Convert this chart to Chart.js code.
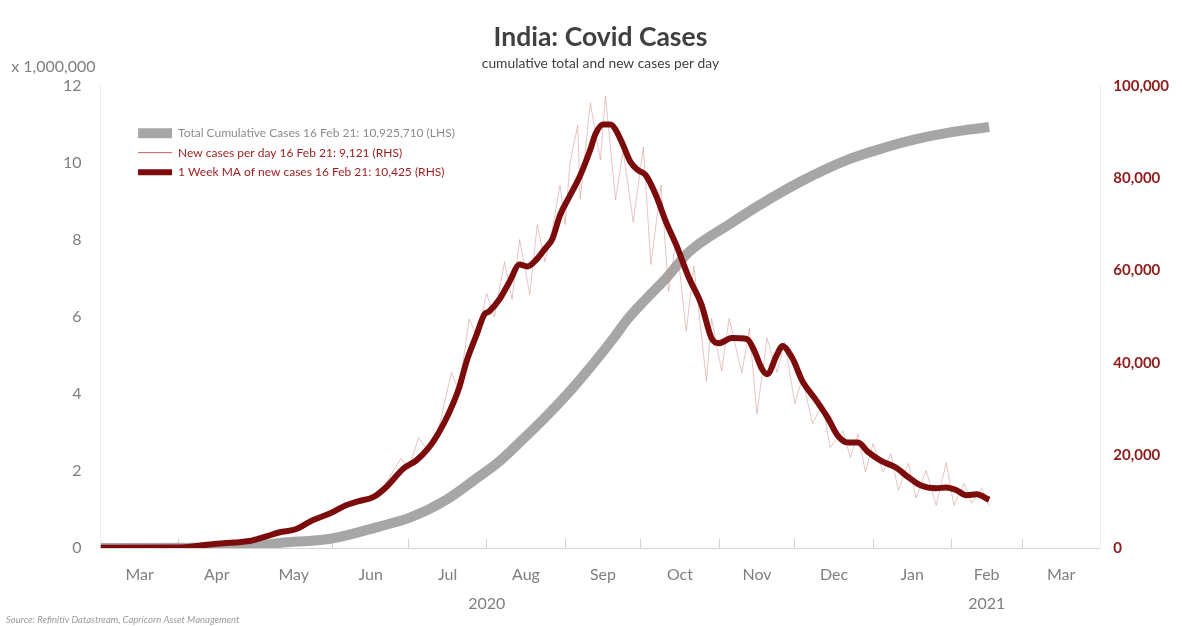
<!DOCTYPE html>
<html>
<head>
<meta charset="utf-8">
<title>India: Covid Cases</title>
<script src="https://cdn.jsdelivr.net/npm/chart.js@4.4.1/dist/chart.umd.min.js"></script>
<style>
  html, body { margin: 0; padding: 0; background: #ffffff; }
  #c { display: block; }
</style>
</head>
<body>
<canvas id="c" width="1182" height="626"></canvas>
<script>
// Day numbers count from 1 Mar 2020 (day 0).

// Month labels, their centres and the month boundaries on the day axis
const monthLabels = ['Mar', 'Apr', 'May', 'Jun', 'Jul', 'Aug', 'Sep', 'Oct', 'Nov', 'Dec', 'Jan', 'Feb', 'Mar'];
const monthStarts = [0, 31, 61, 92, 122, 153, 184, 214, 245, 275, 306, 337, 365, 396];
const yearLabels = ['2020', '2021'];
const yearStarts = [0, 306, 396];

// Total cumulative cases (LHS)
const cumDays = [0, 39, 59, 71, 91, 110, 123, 137, 150, 158, 166, 176, 187, 196, 203, 209, 216, 224, 233, 249, 261, 277, 296, 309, 323, 336, 352];
const cumCases = [3000, 5000, 35000, 130000, 240000, 550000, 800000, 1250000, 1860000, 2250000, 2740000, 3380000, 4150000, 4850000, 5430000, 5960000, 6460000, 7000000, 7680000, 8400000, 8900000, 9500000, 10080000, 10360000, 10610000, 10780000, 10925710];

// New cases per day (RHS)
const dailyDays = [0, 31, 39, 51, 59, 69, 79, 87, 97, 102, 108, 113, 119, 122, 126, 129, 134, 139, 142, 146, 149, 153, 156, 160, 163, 166, 170, 173, 176, 179, 182, 184, 186, 189, 190, 194, 198, 200, 204, 207, 211, 215, 218, 222, 225, 228, 232, 235, 240, 242, 246, 249, 254, 257, 260, 264, 268, 271, 275, 278, 282, 286, 289, 294, 297, 300, 303, 306, 310, 313, 316, 320, 323, 327, 331, 335, 338, 342, 345, 349, 352];
const dailyCases = [0, 100, 600, 1200, 1800, 3200, 4800, 6400, 9000, 10500, 11500, 14000, 19400, 17000, 23900, 21500, 26000, 38000, 34000, 49500, 46000, 55000, 50000, 61900, 53800, 66700, 54800, 69900, 61900, 69000, 78500, 70000, 83400, 91400, 75500, 96300, 83900, 97800, 75300, 86000, 70500, 86700, 61300, 78500, 55500, 67000, 46900, 61000, 36100, 49700, 38300, 49700, 37800, 47500, 29000, 45400, 38000, 44500, 31200, 36800, 26900, 31200, 21700, 25400, 19600, 24700, 16400, 22600, 16500, 20400, 12500, 18300, 10800, 16800, 9200, 18500, 9200, 14000, 9700, 12900, 9121];

// 1 week moving average of new cases (RHS)
const maDays = [0, 31, 39, 46, 53, 59, 65, 71, 77, 84, 91, 97, 102, 108, 113, 120, 125, 130, 134, 138, 142, 145, 149, 152, 154, 158, 162, 166, 169, 173, 176, 179, 182, 186, 190, 194, 196, 199, 202, 204, 207, 210, 213, 216, 220, 224, 228, 233, 238, 242, 245, 250, 256, 259, 262, 264, 268, 270, 274, 278, 283, 288, 292, 296, 300, 304, 309, 315, 320, 325, 331, 335, 339, 343, 347, 352];
const maCases = [50, 100, 500, 900, 1200, 1500, 2400, 3400, 4000, 6000, 7500, 9200, 10100, 11000, 13100, 17200, 18900, 21700, 25000, 29200, 34600, 40400, 46200, 50500, 51200, 53800, 57600, 61300, 60900, 62600, 64700, 66900, 72000, 76300, 80600, 86200, 89500, 91600, 91600, 90500, 87100, 83400, 81700, 80600, 76300, 70500, 65600, 58500, 52700, 45400, 44300, 45400, 45200, 42600, 38700, 37600, 41900, 43700, 41100, 36100, 32300, 28200, 24300, 22800, 22800, 20800, 18900, 17400, 15300, 13500, 12900, 13100, 12500, 11400, 11600, 10425];

const seriesNames = [
  'Total Cumulative Cases 16 Feb 21: 10,925,710 (LHS)',
  'New cases per day 16 Feb 21: 9,121 (RHS)',
  '1 Week MA of new cases 16 Feb 21: 10,425 (RHS)'
];

const GREY_TEXT = '#7f7f7f';
const RED_TEXT = '#8e1a1a';
const FONT = 'Lato';

const pairs = (xs, ys) => xs.map((x, i) => ({ x, y: ys[i] }));
const monthCentres = monthLabels.map((_, i) => (monthStarts[i] + monthStarts[i + 1]) / 2);
const yearCentres = yearLabels.map((_, i) => (yearStarts[i] + yearStarts[i + 1]) / 2);
const monthBoundaries = monthStarts.slice(1, -1);

// Legend sits inside the plot, top-left
const legendInset = {
  id: 'legendInset',
  afterLayout(chart) {
    const lg = chart.legend;
    if (!lg) return;
    const w = lg.width, h = lg.height;
    lg.left = chart.chartArea.left + 30;
    lg.top = chart.chartArea.top + 34;
    lg.right = lg.left + w;
    lg.bottom = lg.top + h;
  }
};

// Unit note above the left axis and the source line
const notes = {
  id: 'notes',
  afterDraw(chart) {
    const ctx = chart.ctx;
    const yL = chart.scales.yL;
    ctx.save();
    ctx.fillStyle = GREY_TEXT;
    ctx.font = '16px ' + FONT;
    ctx.textAlign = 'right';
    ctx.textBaseline = 'middle';
    ctx.fillText('x 1,000,000', yL.right - 5, chart.chartArea.top - 19);
    ctx.fillStyle = '#9a9a9a';
    ctx.font = 'italic 9.5px ' + FONT;
    ctx.textAlign = 'left';
    ctx.fillText('Source: Refinitiv Datastream, Capricorn Asset Management', 6, 620);
    ctx.restore();
  }
};

new Chart(document.getElementById('c'), {
  type: 'line',
  data: {
    datasets: [
      {
        label: seriesNames[0],
        data: pairs(cumDays, cumCases),
        yAxisID: 'yL',
        borderColor: '#a6a6a6',
        backgroundColor: '#a6a6a6',
        borderWidth: 10,
        borderJoinStyle: 'round',
        cubicInterpolationMode: 'monotone',
        pointRadius: 0,
        order: 3
      },
      {
        label: seriesNames[1],
        data: pairs(dailyDays, dailyCases),
        yAxisID: 'yR',
        borderColor: 'rgba(205, 140, 140, 0.5)',
        backgroundColor: 'rgba(205, 140, 140, 0.5)',
        borderWidth: 1,
        tension: 0,
        pointRadius: 0,
        order: 2
      },
      {
        label: seriesNames[2],
        data: pairs(maDays, maCases),
        yAxisID: 'yR',
        borderColor: '#7c0c0c',
        backgroundColor: '#7c0c0c',
        borderWidth: 6,
        borderJoinStyle: 'round',
        cubicInterpolationMode: 'monotone',
        pointRadius: 0,
        order: 1
      }
    ]
  },
  options: {
    responsive: false,
    devicePixelRatio: 1,
    animation: false,
    events: [],
    layout: { padding: { top: 0, left: 44, right: 0, bottom: 78 } },
    scales: {
      // month names, hung below the zero line of the left axis
      x: {
        type: 'linear',
        position: { yL: 0 },
        min: 0,
        max: 396,
        afterBuildTicks: s => { s.ticks = monthCentres.map(v => ({ value: v })); },
        grid: { drawOnChartArea: false, drawTicks: false },
        border: { display: true, color: '#d6d6d6', width: 1 },
        ticks: {
          autoSkip: false,
          maxRotation: 0,
          padding: 17.4,
          color: GREY_TEXT,
          font: { family: FONT, size: 16 },
          callback: (v, i) => monthLabels[i]
        }
      },
      // year names under the months
      xy: {
        type: 'linear',
        axis: 'x',
        position: { yL: 0 },
        min: 0,
        max: 396,
        afterBuildTicks: s => { s.ticks = yearCentres.map(v => ({ value: v })); },
        grid: { drawOnChartArea: false, drawTicks: false },
        border: { display: false },
        ticks: {
          autoSkip: false,
          maxRotation: 0,
          padding: 46.4,
          color: GREY_TEXT,
          font: { family: FONT, size: 16 },
          callback: (v, i) => yearLabels[i]
        }
      },
      // short inward tick marks at each month boundary
      xt: {
        type: 'linear',
        axis: 'x',
        position: { yL: 0 },
        min: 0,
        max: 396,
        afterBuildTicks: s => { s.ticks = monthBoundaries.map(v => ({ value: v })); },
        grid: { display: true, drawOnChartArea: false, drawTicks: true, tickLength: -9, color: '#d0d0d0', lineWidth: 1 },
        border: { display: false },
        ticks: { display: false }
      },
      yL: {
        type: 'linear',
        position: 'left',
        min: 0,
        max: 12000000,
        grid: { display: false, drawTicks: false },
        border: { display: true, color: '#ededed' },
        ticks: {
          stepSize: 2000000,
          padding: 19,
          color: GREY_TEXT,
          font: { family: FONT, size: 16 },
          callback: v => String(v / 1000000)
        }
      },
      yR: {
        type: 'linear',
        position: 'right',
        min: 0,
        max: 100000,
        grid: { display: false, drawTicks: false },
        border: { display: true, color: '#ededed' },
        ticks: {
          stepSize: 20000,
          padding: 13,
          color: RED_TEXT,
          font: { family: FONT, size: 15, weight: 'bold' },
          callback: v => v.toLocaleString('en-US')
        }
      }
    },
    plugins: {
      title: {
        display: true,
        fullSize: false,
        text: 'India: Covid Cases',
        color: '#404040',
        font: { family: FONT, size: 26.5, weight: 'bold', lineHeight: 1.2 },
        padding: { top: 21.1, bottom: 0 }
      },
      subtitle: {
        display: true,
        fullSize: false,
        text: 'cumulative total and new cases per day',
        color: '#404040',
        font: { family: FONT, size: 13.8, lineHeight: 1.2 },
        padding: { top: 2.8, bottom: 13.4 }
      },
      legend: {
        display: true,
        position: 'chartArea',
        align: 'start',
        labels: {
          usePointStyle: true,
          pointStyle: 'line',
          pointStyleWidth: 34,
          padding: 7.5,
          font: { family: FONT, size: 12 },
          sort: (a, b) => a.datasetIndex - b.datasetIndex,
          generateLabels(chart) {
            const items = Chart.defaults.plugins.legend.labels.generateLabels(chart);
            const textColours = ['#8c8c8c', '#9b1c1c', '#9b1c1c'];
            items.forEach(it => {
              it.fontColor = textColours[it.datasetIndex];
              if (it.datasetIndex === 1) it.strokeStyle = '#c8585a';
            });
            return items;
          }
        }
      },
      tooltip: { enabled: false }
    }
  },
  plugins: [legendInset, notes]
});
</script>
</body>
</html>
